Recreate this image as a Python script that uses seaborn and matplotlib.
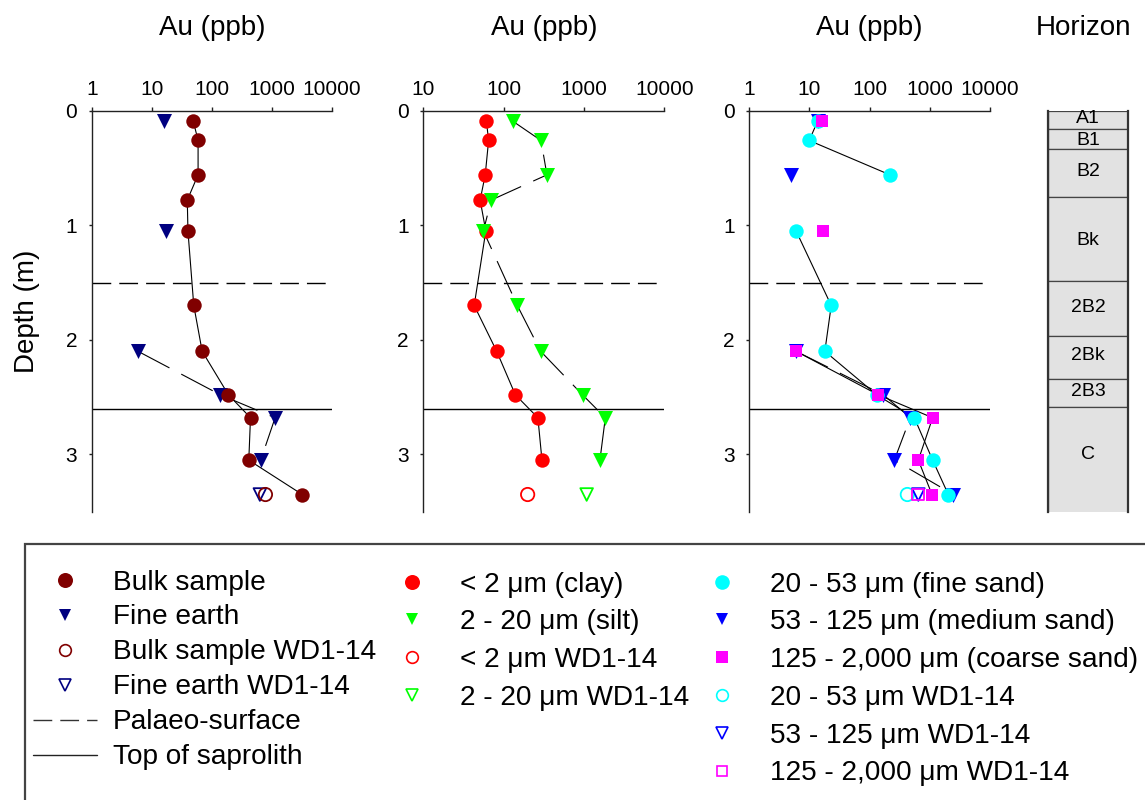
import numpy as np
import matplotlib
matplotlib.use("Agg")
import matplotlib.pyplot as plt
import seaborn as sns
from matplotlib.lines import Line2D
from matplotlib.patches import Rectangle
from matplotlib.ticker import NullLocator

sns.set_theme(style="ticks")
plt.rcParams["font.family"] = ["Liberation Sans", "DejaVu Sans"]
plt.rcParams["axes.unicode_minus"] = False
plt.rcParams["text.color"] = "black"
plt.rcParams["axes.labelcolor"] = "black"
plt.rcParams["xtick.color"] = "black"
plt.rcParams["ytick.color"] = "black"

nan = np.nan

# ---------------- data ----------------
depth = [0.09, 0.26, 0.56, 0.78, 1.05, 1.70, 2.10, 2.48, 2.68, 3.05, 3.35]
wd_depth = [3.35]

bulk = [49, 59, 59, 39, 40, 50, 69, 189, 440, 412, 3200]
fine_earth = [16, nan, nan, nan, 17, nan, 5.9, 139, 1130, 650, nan]
bulk_wd = [780]
fine_earth_wd = [630]

clay = [61, 65, 59, 51, 60, 43, 82, 140, 267, 300, nan]
silt = [129, 292, 346, 70, 56, 148, 289, 960, 1845, 1580, nan]
clay_wd = [199]
silt_wd = [1080]

fine_sand = [13.7, 9.9, 218, nan, 6.0, 23, 18, 131, 553, 1114, 2030]
medium_sand = [14, nan, 4.9, nan, nan, nan, 6.0, 169, 474, 257, 2460]
coarse_sand = [16, nan, nan, nan, 17, nan, 6.0, 139, 1114, 644, 1087]
fine_sand_wd = [423]
medium_sand_wd = [644]
coarse_sand_wd = [644]

palaeo_surface = 1.5
top_saprolith = 2.6

horizon_names = ["A1", "B1", "B2", "Bk", "2B2", "2Bk", "2B3", "C"]
horizon_tops = [0.0, 0.16, 0.33, 0.75, 1.49, 1.97, 2.34, 2.59]
horizon_bottoms = [0.16, 0.33, 0.75, 1.49, 1.97, 2.34, 2.59, 3.6]
horizon_label_depths = [0.072, 0.258, 0.53, 1.13, 1.72, 2.14, 2.45, 3.0]

xticks_a = [1, 10, 100, 1000, 10000]
xticks_b = [10, 100, 1000, 10000]
yticks = [0, 1, 2, 3]

# ---------------- layout ----------------
W, H = 1145, 800
fig = plt.figure(figsize=(W / 100, H / 100), dpi=100)


def rect(l, r, t=110.7, b=511.7):
    return [l / W, 1 - b / H, (r - l) / W, (b - t) / H]


ax1 = fig.add_axes(rect(91.7, 332))
ax2 = fig.add_axes(rect(423.3, 664.3))
ax3 = fig.add_axes(rect(749.3, 990))
axh = fig.add_axes(rect(1048, 1128))

TITLE_Y = 1 + (110.7 - 28) / 401
TICK_FS = 15
TITLE_FS = 20
DASH_REF = (0, (13.5, 5.8))
DASH_SER = (0, (32, 12))


def style(ax, xt):
    ax.set_xscale("log")
    ax.set_xlim(xt[0], xt[-1])
    ax.set_ylim(3.5, 0)
    ax.set_xticks(xt)
    ax.set_xticklabels([str(v) for v in xt])
    ax.xaxis.set_minor_locator(NullLocator())
    ax.set_yticks(yticks)
    ax.set_yticklabels([str(v) for v in yticks])
    ax.xaxis.tick_top()
    ax.tick_params(axis="x", which="major", top=True, bottom=False, labeltop=True,
                   labelbottom=False, direction="out", length=3.2, width=1,
                   pad=5.5, labelsize=TICK_FS, color="#222222", labelcolor="black")
    ax.tick_params(axis="y", left=True, direction="out", length=2.5, width=1,
                   pad=8, labelsize=TICK_FS, color="#222222", labelcolor="black")
    for s in ["right", "bottom"]:
        ax.spines[s].set_visible(False)
    for s in ["top", "left"]:
        ax.spines[s].set_linewidth(1.0)
        ax.spines[s].set_color("#222222")
    ax.set_xlabel("")
    ax.set_ylabel("")
    ax.text(0.5, TITLE_Y, "Au (ppb)", transform=ax.transAxes, ha="center",
            va="center", fontsize=TITLE_FS)
    ax.axhline(palaeo_surface, color="black", lw=1.0, ls=DASH_REF, zorder=1.5)
    ax.axhline(top_saprolith, color="black", lw=1.0, zorder=1.5)


for ax, xt in [(ax1, xticks_a), (ax2, xticks_b), (ax3, xticks_a)]:
    style(ax, xt)


def line(ax, vals, ls="-"):
    ax.plot(vals, depth, color="black", lw=0.8, ls=ls, zorder=2)


def filled(ax, vals, dep, marker, s, c, z):
    sns.scatterplot(x=vals, y=dep, ax=ax, marker=marker, s=s, color=c,
                    linewidth=0, zorder=z, legend=False)


def hollow(ax, vals, dep, marker, s, c, z):
    sns.scatterplot(x=vals, y=dep, ax=ax, marker=marker, s=s, color=c,
                    facecolor="none", edgecolor=c, linewidth=1.3, zorder=z,
                    legend=False)


C_BULK = "#800000"
C_FINE = "#000080"
C_CLAY = "#ff0000"
C_SILT = "#00ff00"
C_FSAND = "#00ffff"
C_MSAND = "#0000ff"
C_CSAND = "#ff00ff"

S_CIRC, S_TRI, S_SQ = 108, 117, 79
S_OCIRC, S_OTRI, S_OSQ = 92, 83, 71

# panel 1
line(ax1, bulk)
line(ax1, fine_earth, DASH_SER)
filled(ax1, fine_earth, depth, "v", S_TRI, C_FINE, 3)
filled(ax1, bulk, depth, "o", S_CIRC, C_BULK, 4)
hollow(ax1, fine_earth_wd, wd_depth, "v", S_OTRI, C_FINE, 5)
hollow(ax1, bulk_wd, wd_depth, "o", S_OCIRC, C_BULK, 5)

# panel 2
line(ax2, clay)
line(ax2, silt, DASH_SER)
filled(ax2, clay, depth, "o", S_CIRC, C_CLAY, 3)
filled(ax2, silt, depth, "v", S_TRI, C_SILT, 4)
hollow(ax2, clay_wd, wd_depth, "o", S_OCIRC, C_CLAY, 5)
hollow(ax2, silt_wd, wd_depth, "v", S_OTRI, C_SILT, 5)

# panel 3
line(ax3, fine_sand)
line(ax3, medium_sand, DASH_SER)
line(ax3, coarse_sand)
filled(ax3, medium_sand, depth, "v", S_TRI, C_MSAND, 3)
filled(ax3, fine_sand, depth, "o", S_CIRC, C_FSAND, 3.5)
filled(ax3, coarse_sand, depth, "s", S_SQ, C_CSAND, 4)
hollow(ax3, fine_sand_wd, wd_depth, "o", S_OCIRC, C_FSAND, 5)
hollow(ax3, medium_sand_wd, wd_depth, "v", S_OTRI, C_MSAND, 5)
hollow(ax3, coarse_sand_wd, wd_depth, "s", S_OSQ, C_CSAND, 5)

ax1.set_ylabel("Depth (m)", fontsize=TITLE_FS, color="black")
ax1.yaxis.set_label_coords(-0.215, 0.5)

# horizon column
thick = [b - t for t, b in zip(horizon_tops, horizon_bottoms)]
axh.bar(x=0.5, height=thick, bottom=horizon_tops, width=1.0, color="#e2e2e2",
        edgecolor="#444444", linewidth=0.9, zorder=2)
axh.set_xlim(0, 1)
axh.set_ylim(3.5, 0)
axh.set_xticks([])
axh.set_yticks([])
for s in ["top", "bottom"]:
    axh.spines[s].set_visible(False)
for s in ["left", "right"]:
    axh.spines[s].set_linewidth(1.6)
    axh.spines[s].set_color("#333333")
    axh.spines[s].set_zorder(5)
for name, yd in zip(horizon_names, horizon_label_depths):
    axh.text(0.5, yd, name, ha="center", va="center", fontsize=14, zorder=6)
axh.text((1084 - 1048) / 80, TITLE_Y, "Horizon", transform=axh.transAxes,
         ha="center", va="center", fontsize=TITLE_FS)

# ---------------- legend ----------------
fig.add_artist(Rectangle((25 / W, -0.05), 1.2, 1 - 544 / H + 0.05,
                         transform=fig.transFigure, fill=False,
                         edgecolor="#444444", linewidth=1.6, zorder=0))


def mk(marker, c, ms, open_=False):
    if open_:
        return Line2D([], [], ls="none", marker=marker, markersize=ms,
                      markerfacecolor="none", markeredgecolor=c,
                      markeredgewidth=1.2)
    return Line2D([], [], ls="none", marker=marker, markersize=ms,
                  markerfacecolor=c, markeredgewidth=0)


LEG_FS = 20.2
mu = "\u03bc"

h1 = [mk("o", C_BULK, 10.8), mk("v", C_FINE, 8.5),
      mk("o", C_BULK, 8.4, True), mk("v", C_FINE, 8.3, True),
      Line2D([], [], color="#333333", lw=1.0, ls=DASH_REF),
      Line2D([], [], color="#222222", lw=1.0)]
l1 = ["Bulk sample", "Fine earth", "Bulk sample WD1-14", "Fine earth WD1-14",
      "Palaeo-surface", "Top of saprolith"]

h2 = [mk("o", C_CLAY, 10.8), mk("v", C_SILT, 8.5),
      mk("o", C_CLAY, 8.4, True), mk("v", C_SILT, 8.3, True)]
l2 = [f"< 2 {mu}m (clay)", f"2 - 20 {mu}m (silt)", f"< 2 {mu}m WD1-14",
      f"2 - 20 {mu}m WD1-14"]

h3 = [mk("o", C_FSAND, 10.5), mk("v", C_MSAND, 8.5), mk("s", C_CSAND, 8.0),
      mk("o", C_FSAND, 8.4, True), mk("v", C_MSAND, 8.3, True),
      mk("s", C_CSAND, 7.8, True)]
l3 = [f"20 - 53 {mu}m (fine sand)", f"53 - 125 {mu}m (medium sand)",
      f"125 - 2,000 {mu}m (coarse sand)", f"20 - 53 {mu}m WD1-14",
      f"53 - 125 {mu}m WD1-14", f"125 - 2,000 {mu}m WD1-14"]

common = dict(loc="upper left", frameon=False, fontsize=LEG_FS, handlelength=2.28,
              handletextpad=0.57, borderpad=0, borderaxespad=0, labelcolor="black")
fig.legend(h1, l1, bbox_to_anchor=(33 / W, 1 - 569.5 / H), labelspacing=0.32, **common)
fig.legend(h2, l2, bbox_to_anchor=(380 / W, 1 - 571.5 / H), labelspacing=0.42, **common)
fig.legend(h3, l3, bbox_to_anchor=(690 / W, 1 - 571.5 / H), labelspacing=0.42, **common)

fig.savefig("out.png", dpi=100)
